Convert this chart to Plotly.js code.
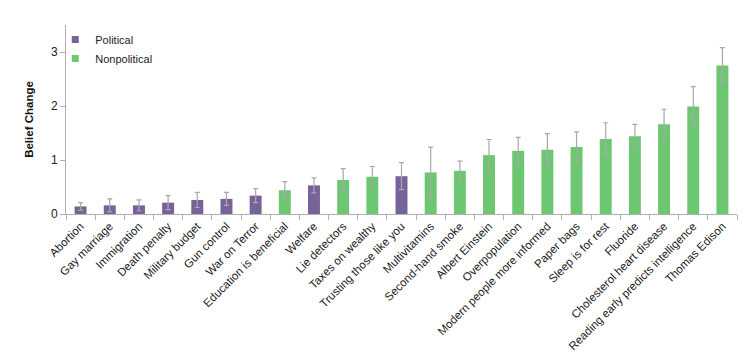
<!DOCTYPE html>
<html>
<head>
<meta charset="utf-8">
<script src="https://cdn.plot.ly/plotly-3.0.1.min.js"></script>
<style>html,body{margin:0;padding:0;background:#fff;}#chart{width:747px;height:364px;}</style>
</head>
<body>
<div id="chart"></div>
<script>
const categories = ["Abortion","Gay marriage","Immigration","Death penalty","Military budget","Gun control","War on Terror","Education is beneficial","Welfare","Lie detectors","Taxes on wealthy","Trusting those like you","Multivitamins","Second-hand smoke","Albert Einstein","Overpopulation","Modern people more informed","Paper bags","Sleep is for rest","Fluoride","Cholesterol heart disease","Reading early predicts intelligence","Thomas Edison"];
const values = [0.14,0.16,0.16,0.21,0.26,0.28,0.34,0.44,0.53,0.63,0.69,0.70,0.77,0.80,1.09,1.17,1.19,1.24,1.39,1.44,1.66,1.99,2.75];
const errors = [0.07,0.12,0.10,0.13,0.14,0.12,0.13,0.16,0.14,0.21,0.19,0.25,0.47,0.18,0.29,0.25,0.30,0.28,0.30,0.22,0.28,0.37,0.33];
const groups = ["Political","Political","Political","Political","Political","Political","Political","Nonpolitical","Political","Nonpolitical","Nonpolitical","Political","Nonpolitical","Nonpolitical","Nonpolitical","Nonpolitical","Nonpolitical","Nonpolitical","Nonpolitical","Nonpolitical","Nonpolitical","Nonpolitical","Nonpolitical"];
const groupNames = ["Political","Nonpolitical"];
const yTicks = [0,1,2,3];

const colors = {"Political":"#77639a","Nonpolitical":"#6dc772"};
const traces = [];
groupNames.forEach(g => {
  const x=[],y=[],e=[];
  categories.forEach((c,i)=>{ if(groups[i]===g){x.push(c);y.push(values[i]);e.push(errors[i]);} });
  traces.push({
    type:'bar', name:g, x:x, y:y, showlegend:false,
    marker:{color:colors[g]},
    width:0.41,
    error_y:{type:'data', array:e, visible:true, color:'#a8a8a8', thickness:1.2, width:2.5}
  });
});
groupNames.forEach(g => {
  traces.push({
    type:'scatter', mode:'markers', name:g, x:[null], y:[null],
    marker:{symbol:'square', size:7, color:colors[g]}, showlegend:true
  });
});

const layout = {
  width:747, height:364,
  margin:{l:66, r:10, t:25, b:150},
  paper_bgcolor:'#fff', plot_bgcolor:'#fff',
  barmode:'overlay',
  font:{family:'"Liberation Sans", Arial, sans-serif', size:11, color:'#222'},
  showlegend:true,
  legend:{x:-0.016, y:1.0, xanchor:'left', yanchor:'top', bgcolor:'rgba(0,0,0,0)', font:{size:11, color:'#222'}, itemwidth:30, tracegroupgap:0},
  xaxis:{
    type:'category', categoryorder:'array', categoryarray:categories,
    range:[-0.5, categories.length-0.5],
    tickangle:-45, showline:true, linecolor:'#b0b0b0', linewidth:1,
    ticks:'outside', tickson:'boundaries', ticklen:5, tickcolor:'#b0b0b0',
    showgrid:false, zeroline:false, tickfont:{size:11.5, color:'#1a1a1a'}
  },
  yaxis:{
    range:[0,3.5], tickvals:yTicks, ticktext:yTicks.map(String),
    showline:true, linecolor:'#b0b0b0', linewidth:1,
    ticks:'outside', ticklen:5, tickcolor:'#b0b0b0',
    showgrid:false, zeroline:false, tickfont:{size:12, color:'#222'},
    title:{text:'<b>Belief Change</b>', font:{size:11.5, color:'#111'}, standoff:14}
  }
};
Plotly.newPlot('chart', traces, layout, {displayModeBar:false, staticPlot:true});
</script>
</body>
</html>
